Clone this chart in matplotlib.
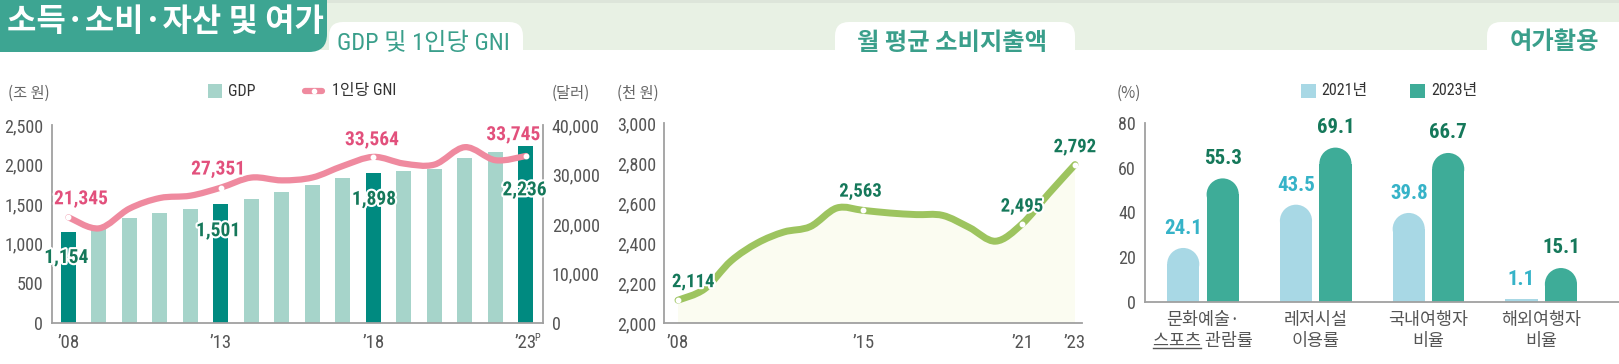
import numpy as np
import matplotlib
matplotlib.use('Agg')
import matplotlib.pyplot as plt
import matplotlib.patheffects as pe
from matplotlib import font_manager as fm
from matplotlib.path import Path
from matplotlib.patches import PathPatch, Rectangle, FancyBboxPatch, Ellipse
from matplotlib.lines import Line2D

# ---- data ----
years = list(range(2008, 2024))
gdp = [1154, 1205, 1323, 1389, 1440, 1501, 1563, 1658, 1741, 1836, 1898, 1924, 1941, 2080, 2162, 2236]
gni = [21345, 19122, 23118, 25256, 25724, 27351, 29384, 28814, 29394, 31734, 33564, 32204, 32004, 35523, 32886, 33745]
gdp_marked = [2008, 2013, 2018, 2023]

cons_years = list(range(2008, 2024))
cons = [2114, 2170, 2310, 2400, 2455, 2482, 2575, 2563, 2550, 2542, 2538, 2478, 2409, 2495, 2646, 2792]
cons_marked = [2008, 2015, 2021, 2023]

leisure_cats = ['문화예술·\n스포츠 관람률', '레저시설\n이용률', '국내여행자\n비율', '해외여행자\n비율']
leisure_2021 = [24.1, 43.5, 39.8, 1.1]
leisure_2023 = [55.3, 69.1, 66.7, 15.1]

# ---- style ----
KR = 'Noto Sans CJK KR'
plt.rcParams['font.family'] = [KR, 'DejaVu Sans']
names = {f.name for f in fm.fontManager.ttflist}
NUM = next((n for n in ['Liberation Sans Narrow', 'Roboto Condensed', 'Noto Sans Condensed',
                        'DejaVu Sans Condensed', 'Open Sans Condensed'] if n in names), 'Liberation Sans')
NUM_FAM = [NUM, 'DejaVu Sans']
MIX_FAM = [NUM, KR]

TEAL = '#3da592'
TAB_TXT = '#3a9f8b'
BAND = '#e8f1e4'
GDP_DARK = '#008a80'
GDP_LIGHT = '#a6d4ca'
PINK = '#ef8a9f'
PINK_TXT = '#e2507c'
GREEN_TXT = '#15785a'
LINE_GREEN = '#9dc45f'
C21 = '#a8d8e5'
C23 = '#3eac98'
C21_TXT = '#36b3c8'
GRAY = '#555555'
SPINE = '#a0a0a0'

W, H = 1619, 364
fig = plt.figure(figsize=(W / 100, H / 100), dpi=100)


def px_axes(x0, y0, x1, y1, **kw):
    return fig.add_axes([x0 / W, 1 - y1 / H, (x1 - x0) / W, (y1 - y0) / H], **kw)


def smooth_path(xs, ys, t=1 / 6):
    p = np.column_stack([xs, ys]).astype(float)
    n = len(p)
    verts = [p[0]]
    codes = [Path.MOVETO]
    for i in range(n - 1):
        p0 = p[i - 1] if i > 0 else p[i]
        p3 = p[i + 2] if i + 2 < n else p[i + 1]
        verts += [p[i] + (p[i + 1] - p0) * t, p[i + 1] - (p3 - p[i]) * t, p[i + 1]]
        codes += [Path.CURVE4] * 3
    return Path(verts, codes)


def style_axes(ax):
    for s in ax.spines.values():
        s.set_color(SPINE)
        s.set_linewidth(1.3)
    ax.spines['top'].set_visible(False)
    ax.spines['right'].set_visible(False)
    ax.tick_params(length=0, labelcolor=GRAY)
    ax.patch.set_alpha(0)


# ---- header / layout decorations ----
bg = fig.add_axes([0, 0, 1, 1], zorder=0)
bg.set_xlim(0, W)
bg.set_ylim(H, 0)
bg.axis('off')
bg.add_patch(Rectangle((0, 0), W, 50, color=BAND, lw=0))
bg.add_patch(Rectangle((0, 0), W, 3, color='#dde5da', lw=0))
for x0, x1 in [(329, 523), (835, 1075), (1487, 1680)]:
    bg.add_patch(FancyBboxPatch((x0, 22), x1 - x0, 60, boxstyle='round,pad=0,rounding_size=14',
                                fc='white', ec='none'))
bg.add_patch(FancyBboxPatch((-40, -40), 367, 92, boxstyle='round,pad=0,rounding_size=18',
                            fc=TEAL, ec='none'))
bg.text(7, 22, '소득·소비·자산 및 여가', color='white', fontsize=23, fontweight='black',
        va='center', ha='left')
bg.text(423, 43, 'GDP 및 1인당 GNI', color=TAB_TXT, fontsize=17.5, family=MIX_FAM,
        ha='center', va='center')
bg.text(952, 43, '월 평균 소비지출액', color=TAB_TXT, fontsize=17.5, fontweight='bold',
        ha='center', va='center')
bg.text(1554, 42, '여가활용', color=TAB_TXT, fontsize=17.5, fontweight='bold',
        ha='center', va='center')

for x, txt in [(8, '(조 원)'), (552, '(달러)'), (617, '(천 원)'), (1117, '(%)')]:
    bg.text(x, 93, txt, fontsize=11, color='#666666', va='center', ha='left')

# legends
bg.add_patch(Rectangle((208, 84), 14, 14, color=GDP_LIGHT, lw=0))
bg.text(228, 91, 'GDP', fontsize=11.5, va='center', color='#333333', family=MIX_FAM)
bg.plot([305, 322], [91, 91], color=PINK, lw=4.5, solid_capstyle='round')
bg.plot([313.5], [91], 'o', ms=3, color='white')
bg.text(332, 91, '1인당 GNI', fontsize=11.5, va='center', color='#333333', family=MIX_FAM)
bg.add_patch(Rectangle((1301, 84), 15, 14, color=C21, lw=0))
bg.text(1321, 91, '2021년', fontsize=11.5, va='center', color='#333333', family=MIX_FAM)
bg.add_patch(Rectangle((1410, 84), 15, 14, color=C23, lw=0))
bg.text(1431, 91, '2023년', fontsize=11.5, va='center', color='#333333', family=MIX_FAM)

# ---- GDP & GNI ----
ax1 = px_axes(51.7, 125, 542.7, 323, zorder=2)
style_axes(ax1)
ax1.set_xlim(2008 - 0.55, 2023 + 0.55)
ax1.set_ylim(0, 2500)
bar_colors = [GDP_DARK if y in gdp_marked else GDP_LIGHT for y in years]
ax1.bar(years, gdp, width=0.49, color=bar_colors, zorder=2)
ax1.set_yticks(range(0, 2501, 500), labels=[f'{v:,}' for v in range(0, 2501, 500)],
               fontfamily=NUM_FAM, fontsize=13)
ax1.set_xticks(gdp_marked, labels=['\u201908', '\u201913', '\u201918', '\u201923'],
               fontfamily=NUM_FAM, fontsize=13.5)
ax1.tick_params(axis='y', pad=6)
ax1.tick_params(axis='x', pad=8)
ax1.annotate('P', xy=(2023, 0), xycoords=('data', 'axes fraction'), xytext=(6, -7),
             textcoords='offset points', fontsize=7.5, color=GRAY, va='top', ha='left',
             fontfamily=NUM_FAM)

ax2 = ax1.twinx()
style_axes(ax2)
ax2.spines['right'].set_visible(True)
ax2.spines['left'].set_visible(False)
ax2.spines['bottom'].set_visible(False)
ax2.set_ylim(0, 40000)
ax2.set_yticks(range(0, 40001, 10000), labels=[f'{v:,}' for v in range(0, 40001, 10000)],
               fontfamily=NUM_FAM, fontsize=13)
ax2.tick_params(axis='y', pad=6.5)
ax2.add_patch(PathPatch(smooth_path(years, gni), fill=False, ec=PINK, lw=4.5,
                        capstyle='round', joinstyle='round', zorder=3))
gni_marked = [gni[years.index(y)] for y in gdp_marked]
ax2.plot(gdp_marked, gni_marked, 'o', ms=3.2, mfc='white', mec='white', zorder=4)

halo = [pe.withStroke(linewidth=3, foreground='white')]
gni_off = [(9, 13), (-2, 13), (-1, 12), (-9, 15)]
for y, v, off in zip(gdp_marked, gni_marked, gni_off):
    ax2.annotate(f'{v:,}', (y, v), xytext=off, textcoords='offset points', ha='center',
                 va='center', fontsize=14, fontweight='bold', color=PINK_TXT,
                 fontfamily=NUM_FAM, path_effects=halo, zorder=5)
gdp_off = [(-1.5, -19), (-2, -19.5), (0.5, -19.5), (-1, -32)]
for y, off in zip(gdp_marked, gdp_off):
    v = gdp[years.index(y)]
    ax2.annotate(f'{v:,}', (y, v * 16), xytext=off, textcoords='offset points', ha='center',
                 va='center', fontsize=14, fontweight='bold', color=GREEN_TXT,
                 fontfamily=NUM_FAM, path_effects=halo, zorder=5)

# ---- monthly consumption ----
ax3 = px_axes(664, 123, 1082, 323, zorder=2)
style_axes(ax3)
ax3.set_xlim(2008 - 14 / 26.47, 2023 + 7 / 26.47)
ax3.set_ylim(2000, 3000)
cpath = smooth_path(cons_years, cons)
fill_verts = np.vstack([cpath.vertices, [[cons_years[-1], 2000], [cons_years[0], 2000], cpath.vertices[0]]])
fill_codes = list(cpath.codes) + [Path.LINETO, Path.LINETO, Path.CLOSEPOLY]
ax3.add_patch(PathPatch(Path(fill_verts, fill_codes), fc='#fbfcf1', ec='none', zorder=1))
ax3.add_patch(PathPatch(cpath, fill=False, ec=LINE_GREEN, lw=5, capstyle='round',
                        joinstyle='round', zorder=3))
cons_m = [cons[cons_years.index(y)] for y in cons_marked]
ax3.plot(cons_marked, cons_m, 'o', ms=3.2, mfc='white', mec='white', zorder=4)
cons_off = [(11, 13), (-2, 13.5), (0, 12.5), (0, 12.5)]
for y, v, off in zip(cons_marked, cons_m, cons_off):
    ax3.annotate(f'{v:,}', (y, v), xytext=off, textcoords='offset points', ha='center',
                 va='center', fontsize=13.5, fontweight='bold', color=GREEN_TXT,
                 fontfamily=NUM_FAM, path_effects=halo, zorder=5)
ax3.set_yticks(range(2000, 3001, 200), labels=[f'{v:,}' for v in range(2000, 3001, 200)],
               fontfamily=NUM_FAM, fontsize=13)
ax3.set_xticks(cons_marked, labels=['\u201908', '\u201915', '\u201921', '\u201923'],
               fontfamily=NUM_FAM, fontsize=13.5)
ax3.tick_params(axis='y', pad=5.5)
ax3.tick_params(axis='x', pad=8)

# ---- leisure ----
ax4 = px_axes(1145, 123.3, 1619, 301.7, zorder=2)
style_axes(ax4)
ax4.set_xlim(-0.514, 3.69)
ax4.set_ylim(0, 80)
ax4.set_yticks(range(0, 81, 20), labels=[str(v) for v in range(0, 81, 20)],
               fontfamily=NUM_FAM, fontsize=13)
ax4.tick_params(axis='y', pad=6.5)
CAT_FS = 12.5
ax4.set_xticks(range(len(leisure_cats)), labels=leisure_cats, fontsize=CAT_FS,
               linespacing=1.2, color=GRAY)
ax4.tick_params(axis='x', pad=7)

bw = 0.285
o0 = ax4.transData.transform((0, 0))
px_x = ax4.transData.transform((1, 0))[0] - o0[0]
px_y = ax4.transData.transform((0, 1))[1] - o0[1]
r_y = (bw / 2 * px_x) / px_y


def round_bar(x, v, color):
    if v > r_y:
        ax4.bar(x, v - r_y, bw, color=color, lw=0, zorder=2)
        ax4.add_patch(Ellipse((x, v - r_y), bw, 2 * r_y, color=color, lw=0, zorder=2))
    else:
        ax4.bar(x, v, bw, color=color, lw=0, zorder=2)


for i, (a, b) in enumerate(zip(leisure_2021, leisure_2023)):
    round_bar(i - 0.175, a, C21)
    round_bar(i + 0.175, b, C23)
    ax4.annotate(f'{a}', (i - 0.175, a), xytext=(0, 14), textcoords='offset points',
                 ha='center', va='center', fontsize=15, fontweight='bold', color=C21_TXT,
                 fontfamily=NUM_FAM)
    ax4.annotate(f'{b}', (i + 0.175, b), xytext=(0, 14.5), textcoords='offset points',
                 ha='center', va='center', fontsize=15, fontweight='bold', color=GREEN_TXT,
                 fontfamily=NUM_FAM)

# underline under "스포츠"
fig.canvas.draw()
rend = fig.canvas.get_renderer()
lab0 = ax4.get_xticklabels()[0]
bb = lab0.get_window_extent(rend)
tmp = fig.text(0, 0, '스포츠 관람률', fontsize=CAT_FS)
w_line = tmp.get_window_extent(rend).width
tmp.set_text('스포츠')
w_sp = tmp.get_window_extent(rend).width
tmp.remove()
lx = bb.x0 + (bb.width - w_line) / 2
ly = bb.y0 + 2
fig.add_artist(Line2D([lx / W, (lx + w_sp) / W], [ly / H, ly / H], transform=fig.transFigure,
                      color=GRAY, lw=1))

fig.savefig('out.png', dpi=100, facecolor='white')
